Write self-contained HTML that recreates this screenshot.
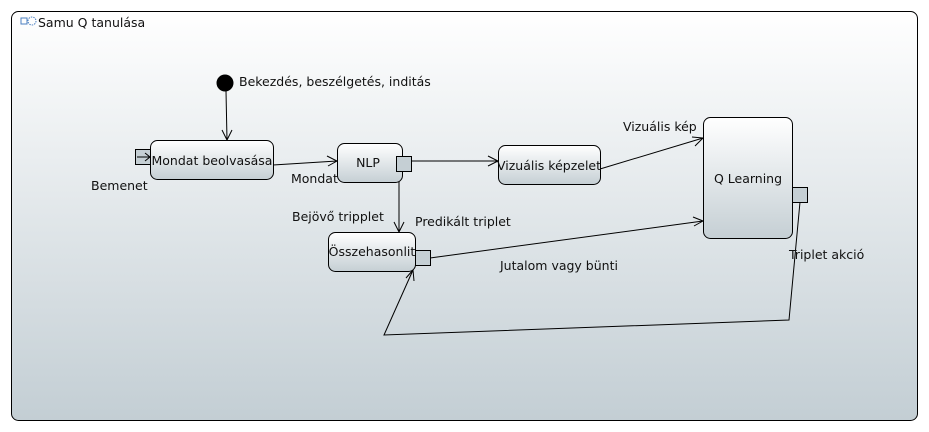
<!DOCTYPE html>
<html><head><meta charset="utf-8"><style>
html,body{margin:0;padding:0;background:#fff;width:929px;height:432px;overflow:hidden}
text{font-family:"DejaVu Sans","Liberation Sans",sans-serif;font-size:12.5px;fill:#111}
</style></head><body>
<svg width="929" height="432" xmlns="http://www.w3.org/2000/svg">
<defs>
<linearGradient id="bg" x1="0" y1="0" x2="0" y2="1"><stop offset="0" stop-color="#ffffff"/><stop offset="1" stop-color="#c3ced4"/></linearGradient>
<linearGradient id="nd" x1="0" y1="0" x2="0" y2="1"><stop offset="0" stop-color="#ffffff"/><stop offset="1" stop-color="#c5cfd4"/></linearGradient>
</defs>
<rect x="11.5" y="11.5" width="906" height="409" rx="7" fill="url(#bg)" stroke="#000"/>
<rect x="21" y="18" width="6" height="6" fill="none" stroke="#4a7fc0" stroke-width="1"/>
<circle cx="32" cy="21" r="4" fill="none" stroke="#4a7fc0" stroke-dasharray="1.5 1"/>
<text x="38" y="27">Samu Q tanulása</text>

<g stroke="#000" fill="none" stroke-width="1">
<line x1="226" y1="91" x2="227" y2="140"/><polyline points="222,130 227,140 232,130"/>
<line x1="273" y1="165" x2="337" y2="161"/><polyline points="327,156 337,161 328,166"/>
<line x1="411" y1="161" x2="498" y2="161"/><polyline points="488,156 498,161 488,166"/>
<line x1="399" y1="172" x2="399" y2="232"/><polyline points="394,222 399,232 404,222"/>
<line x1="600" y1="169" x2="703" y2="138"/><polyline points="692,137 703,138 695,146"/>
<line x1="430" y1="258" x2="703" y2="221"/><polyline points="693,217 703,221 694,226"/>
<polyline points="800,202 789,320 384,335 413,270"/><polyline points="406,278 413,270 414,281"/>
</g>
<circle cx="225" cy="83" r="8.5" fill="#000"/>
<text x="239" y="86">Bekezdés, beszélgetés, inditás</text>

<rect x="135.5" y="149.5" width="15" height="15" fill="#c5cfd4" stroke="#000"/>
<line x1="137" y1="157" x2="150" y2="157" stroke="#000"/><polyline points="145,153 150,157 145,161" fill="none" stroke="#000"/>
<rect x="150.5" y="140.5" width="123" height="39" rx="7" fill="url(#nd)" stroke="#000"/>
<text x="212" y="165" text-anchor="middle">Mondat beolvasása</text>
<text x="91" y="190">Bemenet</text>

<rect x="337.5" y="143.5" width="65" height="39" rx="7" fill="url(#nd)" stroke="#000"/>
<text x="368" y="167" text-anchor="middle">NLP</text>
<rect x="396.5" y="156.5" width="15" height="15" fill="#c5cfd4" stroke="#000"/>
<text x="291" y="183">Mondat</text>

<rect x="498.5" y="145.5" width="102" height="39" rx="7" fill="url(#nd)" stroke="#000"/>
<text x="549" y="170" text-anchor="middle">Vizuális képzelet</text>
<text x="623" y="131">Vizuális kép</text>

<rect x="703.5" y="117.5" width="89" height="121" rx="7" fill="url(#nd)" stroke="#000"/>
<text x="748" y="183" text-anchor="middle">Q Learning</text>
<rect x="792.5" y="187.5" width="15" height="15" fill="#c5cfd4" stroke="#000"/>

<rect x="328.5" y="232.5" width="87" height="39" rx="7" fill="url(#nd)" stroke="#000"/>
<text x="372" y="256" text-anchor="middle">Összehasonlit</text>
<rect x="415.5" y="250.5" width="15" height="15" fill="#c5cfd4" stroke="#000"/>

<text x="292" y="221">Bejövő tripplet</text>
<text x="415" y="226">Predikált triplet</text>
<text x="500" y="270">Jutalom vagy bünti</text>
<text x="789" y="259">Triplet akció</text>
</svg>
</body></html>
